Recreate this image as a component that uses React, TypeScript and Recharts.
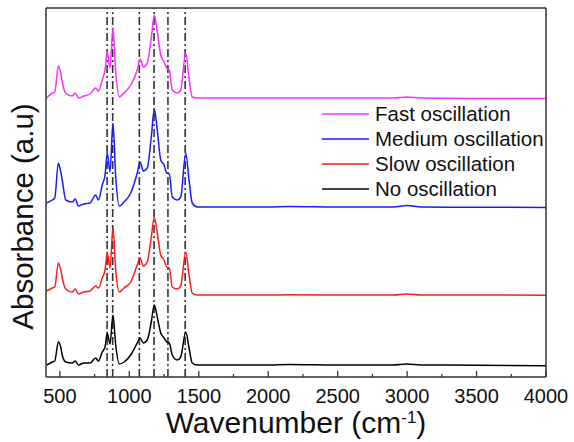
import React from "react";
import { LineChart, Line, XAxis, YAxis, ReferenceLine, Legend, Label } from "recharts";

// Wavenumber grid (cm^-1)
const wavenumbers = [
  405, 445, 463, 489, 506, 517, 542, 589, 611, 633, 674, 717, 758, 777, 805, 825, 841, 861, 882, 902,
  928, 962, 1010, 1057, 1077, 1101, 1129, 1158, 1180, 1201, 1226, 1250, 1269, 1288, 1309, 1345, 1370,
  1406, 1430, 1453, 1489, 1600, 2000, 2150, 2500, 2900, 3000, 3100, 3500, 4000,
];

// Absorbance (a.u., vertically offset spectra as plotted)
const fastOsc = [
  2.79, 2.84, 2.85, 3.11, 3.04, 2.95, 2.84, 2.81, 2.84, 2.79, 2.81, 2.83, 2.89, 2.86, 2.97, 3.07, 3.25, 3.09, 3.49, 3.05,
  2.8, 2.84, 2.92, 3.07, 3.18, 3.1, 3.14, 3.39, 3.62, 3.45, 3.22, 3.15, 3.09, 3.07, 2.87, 2.84, 2.87,
  3.24, 2.99, 2.8, 2.79, 2.79, 2.79, 2.79, 2.79, 2.79, 2.8, 2.79, 2.785, 2.785,
];
const mediumOsc = [
  1.74, 1.77, 1.79, 2.14, 2.05, 1.97, 1.77, 1.75, 1.78, 1.71, 1.73, 1.74, 1.82, 1.77, 1.92, 2.02, 2.24, 2.05, 2.54, 2.0,
  1.71, 1.75, 1.84, 2.04, 2.15, 2.06, 2.09, 2.4, 2.68, 2.47, 2.17, 2.12, 2.04, 2.03, 1.8, 1.77, 1.8,
  2.24, 1.97, 1.74, 1.7, 1.7, 1.7, 1.705, 1.7, 1.7, 1.715, 1.7, 1.698, 1.695,
];
const slowOsc = [
  0.86, 0.89, 0.9, 1.14, 1.07, 0.99, 0.88, 0.85, 0.88, 0.83, 0.85, 0.86, 0.91, 0.89, 0.99, 1.07, 1.24, 1.09, 1.49, 1.07,
  0.85, 0.89, 0.95, 1.12, 1.19, 1.11, 1.15, 1.4, 1.6, 1.44, 1.22, 1.17, 1.1, 1.09, 0.9, 0.88, 0.91,
  1.25, 1.02, 0.84, 0.82, 0.82, 0.82, 0.822, 0.82, 0.82, 0.83, 0.82, 0.82, 0.818,
];
const noOsc = [
  0.12, 0.15, 0.16, 0.35, 0.3, 0.22, 0.15, 0.14, 0.16, 0.12, 0.14, 0.14, 0.19, 0.16, 0.25, 0.3, 0.44, 0.33, 0.62, 0.32,
  0.13, 0.15, 0.22, 0.34, 0.39, 0.34, 0.37, 0.55, 0.72, 0.6, 0.44, 0.39, 0.35, 0.34, 0.22, 0.17, 0.2,
  0.45, 0.29, 0.14, 0.12, 0.12, 0.12, 0.125, 0.12, 0.12, 0.13, 0.12, 0.118, 0.113,
];

const seriesNames = ["Fast oscillation", "Medium oscillation", "Slow oscillation", "No oscillation"];
const seriesKeys = ["fast", "medium", "slow", "none"];
const seriesColors = ["#ff2cff", "#1a1aff", "#ff1a1a", "#000000"];

// Characteristic band positions (cm^-1)
const bandLines = [840, 880, 1072, 1178, 1278, 1402];

const xTicks = [500, 750, 1000, 1250, 1500, 1750, 2000, 2250, 2500, 2750, 3000, 3250, 3500, 3750, 4000];

const data = wavenumbers.map((w, i) => ({
  wn: w,
  fast: fastOsc[i],
  medium: mediumOsc[i],
  slow: slowOsc[i],
  none: noOsc[i],
}));

const FONT = "'Liberation Sans', Arial, sans-serif";
const AXIS = "#333333";

const BottomTick = (props: any) => {
  const { x, y, payload } = props;
  const major = payload.value % 500 === 0;
  return (
    <g>
      <line x1={x} x2={x} y1={y} y2={y - (major ? 6 : 3)} stroke={AXIS} strokeWidth={1.3} />
      {major && (
        <text x={x} y={y + 26} textAnchor="middle" fontSize={20} fontFamily={FONT} fill="#111">
          {payload.value}
        </text>
      )}
    </g>
  );
};

const XLabel = (props: any) => {
  const vb = props.viewBox;
  const cx = vb.x + vb.width / 2;
  return (
    <text x={cx} y={vb.y + 56} textAnchor="middle" fontSize={30} fontFamily={FONT} fill="#111">
      Wavenumber (cm
      <tspan dy={-10} fontSize={17}>-1</tspan>
      <tspan dy={10}>)</tspan>
    </text>
  );
};

const YLabel = (props: any) => {
  const vb = props.viewBox;
  const cx = vb.x + 16;
  const cy = vb.y + vb.height / 2 + 24;
  return (
    <text
      x={cx}
      y={cy}
      textAnchor="middle"
      dominantBaseline="central"
      fontSize={29.5}
      fontFamily={FONT}
      fill="#111"
      transform={`rotate(-90, ${cx}, ${cy})`}
    >
      Absorbance (a.u)
    </text>
  );
};

const LegendContent = () => (
  <div style={{ fontFamily: FONT }}>
    {seriesNames.map((n, i) => (
      <div key={n} style={{ display: "flex", alignItems: "center", height: 25 }}>
        <svg width={53} height={10} style={{ display: "block" }}>
          <line x1={0} x2={47} y1={5} y2={5} stroke={seriesColors[i]} strokeWidth={1.5} />
        </svg>
        <span style={{ fontSize: 20.5, color: "#111", lineHeight: "25px", whiteSpace: "nowrap" }}>{n}</span>
      </div>
    ))}
  </div>
);

export default function App() {
  return (
    <div style={{ position: "absolute", left: 0, top: 0, background: "#fff" }}>
      <LineChart
        width={574}
        height={442}
        data={data}
        margin={{ top: 7, right: 27, bottom: 0, left: 6 }}
      >
        <XAxis
          dataKey="wn"
          type="number"
          domain={[400, 4000]}
          ticks={xTicks}
          interval={0}
          tickSize={0}
          tickMargin={0}
          tickLine={false}
          tick={<BottomTick />}
          height={65}
          axisLine={{ stroke: AXIS, strokeWidth: 1.5 }}
          allowDataOverflow
        >
          <Label content={<XLabel />} />
        </XAxis>
        <XAxis
          xAxisId="top"
          orientation="top"
          dataKey="wn"
          type="number"
          domain={[400, 4000]}
          height={1}
          tick={false}
          tickLine={false}
          axisLine={{ stroke: AXIS, strokeWidth: 1.5 }}
        />
        <YAxis
          type="number"
          domain={[0, 3.69]}
          width={40}
          tick={false}
          tickLine={false}
          axisLine={{ stroke: AXIS, strokeWidth: 1.5 }}
          allowDataOverflow
        >
          <Label content={<YLabel />} />
        </YAxis>
        <YAxis
          yAxisId="right"
          orientation="right"
          type="number"
          domain={[0, 3.69]}
          width={1}
          tick={false}
          tickLine={false}
          axisLine={{ stroke: AXIS, strokeWidth: 1.5 }}
        />
        {bandLines.map((b) => (
          <ReferenceLine key={b} x={b} stroke="#333" strokeWidth={1.6} strokeDasharray="8 3 2 3" />
        ))}
        {seriesKeys.map((k, i) => (
          <Line
            key={k}
            dataKey={k}
            name={seriesNames[i]}
            type="monotone"
            stroke={seriesColors[i]}
            strokeWidth={1.5}
            dot={false}
            isAnimationActive={false}
          />
        ))}
        <Legend
          content={<LegendContent />}
          layout="horizontal"
          verticalAlign="middle"
          align="center"
          wrapperStyle={{ position: "absolute", left: 322, top: 101, width: 240 }}
        />
      </LineChart>
    </div>
  );
}
